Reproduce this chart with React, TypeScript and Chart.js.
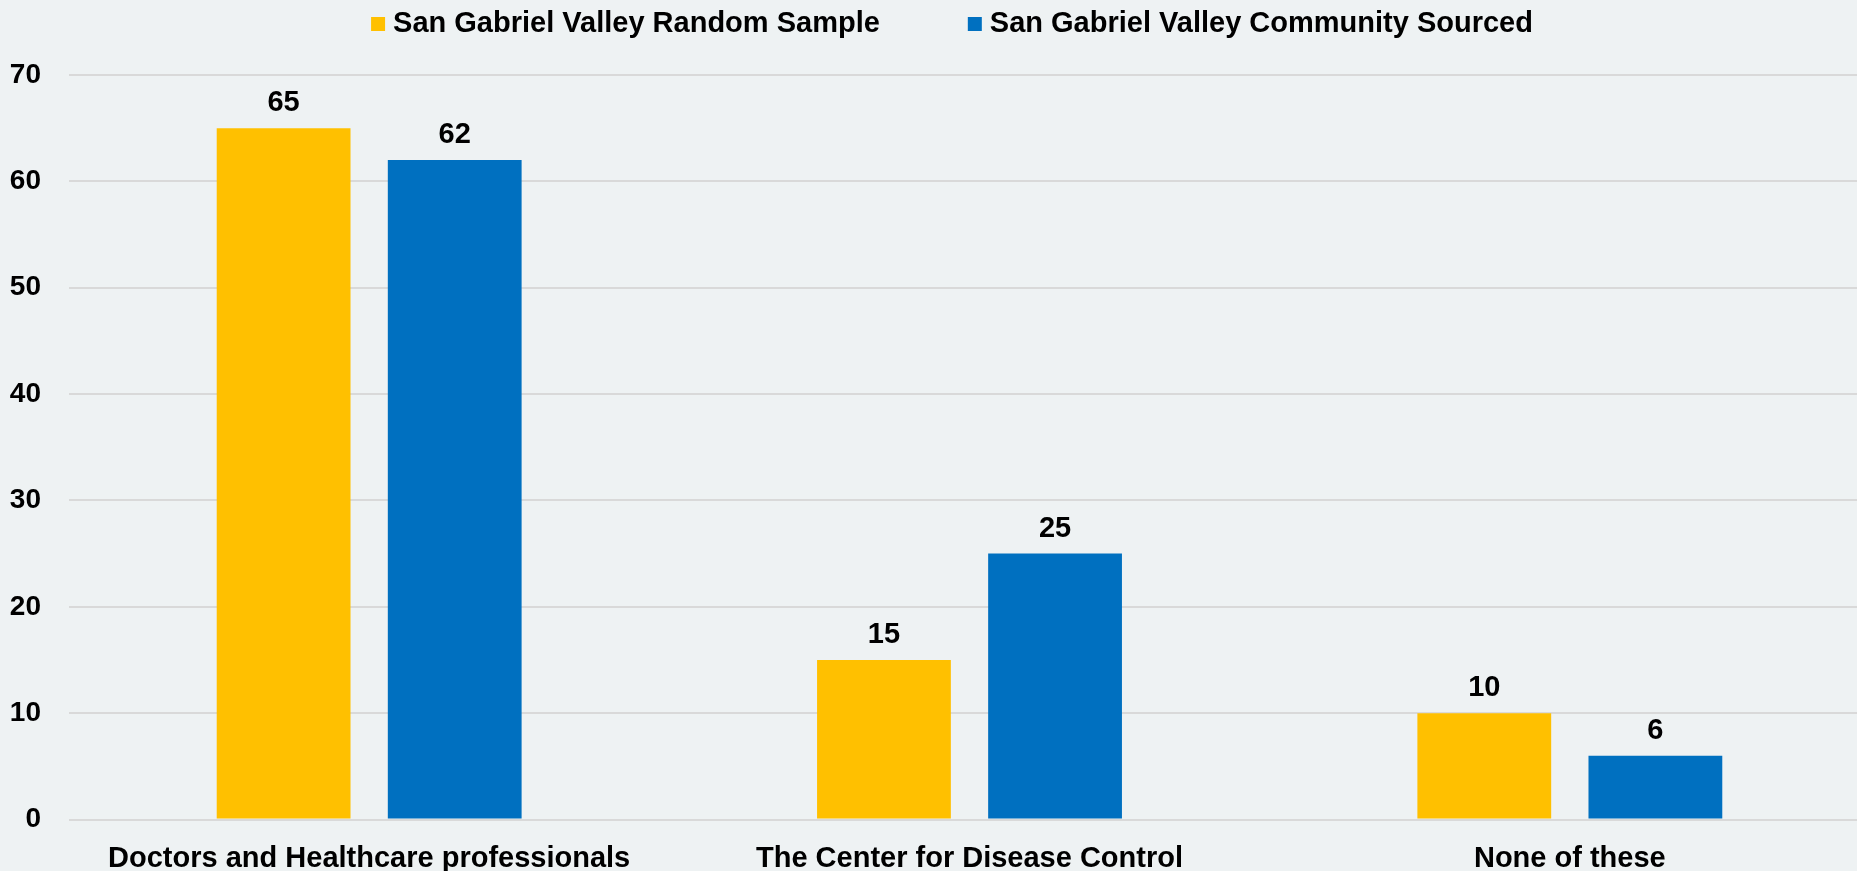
import React, { useEffect, useRef } from "react";
import { Chart, registerables } from "chart.js";

Chart.register(...registerables);

const categories = [
  "Doctors and Healthcare professionals",
  "The Center for Disease Control",
  "None of these",
];
const seriesNames = [
  "San Gabriel Valley Random Sample",
  "San Gabriel Valley Community Sourced",
];
const randomSample = [65, 15, 10];
const communitySourced = [62, 25, 6];
const colors = ["#FFC000", "#0070C0"];
const yMax = 70;
const yStep = 10;

const FONT = "'Liberation Sans', Arial, Helvetica, sans-serif";
const BG = "#EEF2F3";

const dataLabelPlugin = {
  id: "dataLabels",
  afterDatasetsDraw(chart: any) {
    const ctx = chart.ctx;
    ctx.save();
    ctx.font = `bold 29px ${FONT}`;
    ctx.fillStyle = "#000";
    ctx.textAlign = "center";
    ctx.textBaseline = "middle";
    chart.data.datasets.forEach((ds: any, i: number) => {
      const meta = chart.getDatasetMeta(i);
      meta.data.forEach((bar: any, j: number) => {
        ctx.fillText(String(ds.data[j]), bar.x, bar.y - 25);
      });
    });
    ctx.restore();
  },
};

const legendPlugin = {
  id: "customLegend",
  afterDraw(chart: any) {
    const ctx = chart.ctx;
    ctx.save();
    ctx.font = `bold 29px ${FONT}`;
    ctx.textBaseline = "middle";
    const box = 14;
    const gapText = 8;
    const gapItems = 88;
    const widths = seriesNames.map((n) => ctx.measureText(n).width);
    const total =
      widths.reduce((a: number, b: number) => a + b, 0) +
      seriesNames.length * (box + gapText) +
      gapItems * (seriesNames.length - 1);
    let x = 952 - total / 2;
    const y = 24;
    seriesNames.forEach((n, i) => {
      ctx.fillStyle = colors[i];
      ctx.fillRect(x, y - box / 2, box, box);
      x += box + gapText;
      ctx.fillStyle = "#000";
      ctx.textAlign = "left";
      ctx.fillText(n, x, y);
      x += widths[i] + gapItems;
    });
    ctx.restore();
  },
};

const bgPlugin = {
  id: "bg",
  beforeDraw(chart: any) {
    const ctx = chart.ctx;
    ctx.save();
    ctx.fillStyle = BG;
    ctx.fillRect(0, 0, chart.width, chart.height);
    ctx.restore();
  },
};

export default function App() {
  const ref = useRef<HTMLCanvasElement>(null);
  useEffect(() => {
    if (!ref.current) return;
    const chart = new Chart(ref.current, {
      type: "bar",
      data: {
        labels: categories,
        datasets: [
          {
            label: seriesNames[0],
            data: randomSample,
            backgroundColor: colors[0],
            categoryPercentage: 0.57,
            barPercentage: 0.782,
          },
          {
            label: seriesNames[1],
            data: communitySourced,
            backgroundColor: colors[1],
            categoryPercentage: 0.57,
            barPercentage: 0.782,
          },
        ],
      },
      options: {
        animation: false,
        responsive: false,
        maintainAspectRatio: false,
        layout: { padding: { top: 75, left: 0, right: 0, bottom: 0 } },
        plugins: {
          legend: { display: false },
          tooltip: { enabled: false },
          title: { display: false },
        },
        scales: {
          x: {
            grid: { display: false, drawTicks: false },
            border: { display: false },
            ticks: {
              color: "#000",
              font: { family: FONT, size: 29, weight: "bold" },
              padding: 22,
              maxRotation: 0,
              autoSkip: false,
            },
            afterFit(scale: any) {
              scale.height = 51.5;
            },
          },
          y: {
            min: 0,
            max: yMax,
            ticks: {
              stepSize: yStep,
              color: "#000",
              font: { family: FONT, size: 28, weight: "bold" },
              padding: 28,
            },
            grid: { color: "#D9D9D9", lineWidth: 2, drawTicks: false },
            border: { display: false },
            afterFit(scale: any) {
              scale.width = 69;
            },
          },
        },
      },
      plugins: [bgPlugin, dataLabelPlugin, legendPlugin],
    });
    return () => chart.destroy();
  }, []);
  return (
    <div
      style={{
        position: "fixed",
        left: 0,
        top: 0,
        width: 1857,
        height: 871,
        overflow: "hidden",
        background: BG,
      }}
    >
      <canvas ref={ref} width={1870} height={871} style={{ display: "block" }} />
    </div>
  );
}
